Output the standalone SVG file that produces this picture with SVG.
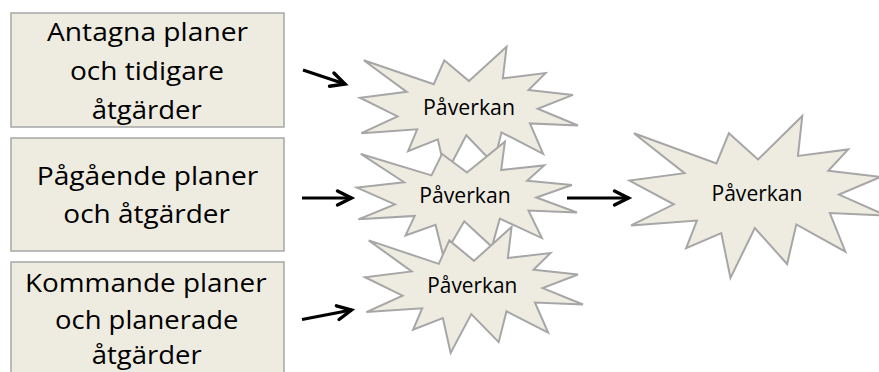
<svg xmlns="http://www.w3.org/2000/svg" xmlns:xlink="http://www.w3.org/1999/xlink" width="879" height="372" viewBox="0 0 879 372">
<style>
  .box { fill: #EEECE1; stroke: #A6A6A6; stroke-width: 1.5; }
  .seal { fill: #EEECE1; stroke: #A6A6A6; stroke-width: 2; vector-effect: non-scaling-stroke; stroke-linejoin: miter; }
  .bt { font-family: "Open Sans", "Noto Sans", sans-serif; font-size: 26px; fill: #000; text-anchor: middle; }
  .st { font-family: "Open Sans", "Noto Sans", sans-serif; font-size: 21.5px; fill: #000; text-anchor: middle; }
  .arrow { stroke: #000; stroke-width: 3.2; fill: none; marker-end: url(#ah); }
</style>
<defs>
  <path id="sealShape" class="seal" d="M10800,5800 L14522,0 L14155,5325 L18380,4457 L16702,7315 L21097,8137 L17607,10475 L21600,13290 L16837,12942 L18145,18095 L14020,14457 L13247,19737 L10532,14935 L8485,21600 L7715,15627 L4762,17617 L5667,13937 L135,14587 L3722,11775 L0,8615 L4627,7617 L370,2295 L7312,6320 L8352,2295 Z"/>
  <marker id="ah" markerUnits="userSpaceOnUse" markerWidth="24" markerHeight="24" viewBox="0 0 24 24" refX="18" refY="12" orient="auto">
    <path d="M4,5 L18,12 L4,19" fill="none" stroke="#000" stroke-width="3.4" stroke-linecap="round" stroke-linejoin="miter"/>
  </marker>
</defs>
<rect width="879" height="372" fill="#FFFFFF"/>

<g id="box1">
  <rect class="box" x="11" y="13" width="273" height="114"/>
  <text class="bt" x="147.5" y="41" textLength="201" lengthAdjust="spacingAndGlyphs">Antagna planer</text>
  <text class="bt" x="147" y="80" textLength="154" lengthAdjust="spacingAndGlyphs">och tidigare</text>
  <text class="bt" x="146.7" y="119" textLength="110" lengthAdjust="spacingAndGlyphs">åtgärder</text>
</g>
<g id="box2">
  <rect class="box" x="11" y="138" width="273" height="113"/>
  <text class="bt" x="147.5" y="185" textLength="221.6" lengthAdjust="spacingAndGlyphs">Pågående planer</text>
  <text class="bt" x="146.7" y="223" textLength="166.7" lengthAdjust="spacingAndGlyphs">och åtgärder</text>
</g>
<g id="box3">
  <rect class="box" x="11" y="262" width="273" height="120"/>
  <text class="bt" x="145.8" y="292" textLength="241.7" lengthAdjust="spacingAndGlyphs">Kommande planer</text>
  <text class="bt" x="146.7" y="329" textLength="183.3" lengthAdjust="spacingAndGlyphs">och planerade</text>
  <text class="bt" x="146.7" y="364" textLength="110" lengthAdjust="spacingAndGlyphs">åtgärder</text>
</g>

<g id="star1">
  <use xlink:href="#sealShape" transform="translate(360,46.7) scale(0.0100926,0.0059259)"/>
  <text class="st" x="469" y="115" textLength="92" lengthAdjust="spacingAndGlyphs">Påverkan</text>
</g>
<g id="star2">
  <use xlink:href="#sealShape" transform="translate(357,141.7) scale(0.0101852,0.0053241)"/>
  <text class="st" x="465" y="203" textLength="91.4" lengthAdjust="spacingAndGlyphs">Påverkan</text>
</g>
<g id="star3">
  <use xlink:href="#sealShape" transform="translate(365,227) scale(0.0100926,0.0058333)"/>
  <text class="st" x="472.3" y="293" textLength="90" lengthAdjust="spacingAndGlyphs">Påverkan</text>
</g>
<g id="star4">
  <use xlink:href="#sealShape" transform="translate(629.5,116) scale(0.0118981,0.0075)"/>
  <text class="st" x="757" y="200.5" textLength="91" lengthAdjust="spacingAndGlyphs">Påverkan</text>
</g>

<g id="connectors">
  <line class="arrow" x1="303" y1="70" x2="345" y2="84"/>
  <line class="arrow" x1="302" y1="198" x2="351.5" y2="198"/>
  <line class="arrow" x1="302" y1="319.5" x2="351.5" y2="310"/>
  <line class="arrow" x1="567" y1="198" x2="628.5" y2="198"/>
</g>
</svg>
